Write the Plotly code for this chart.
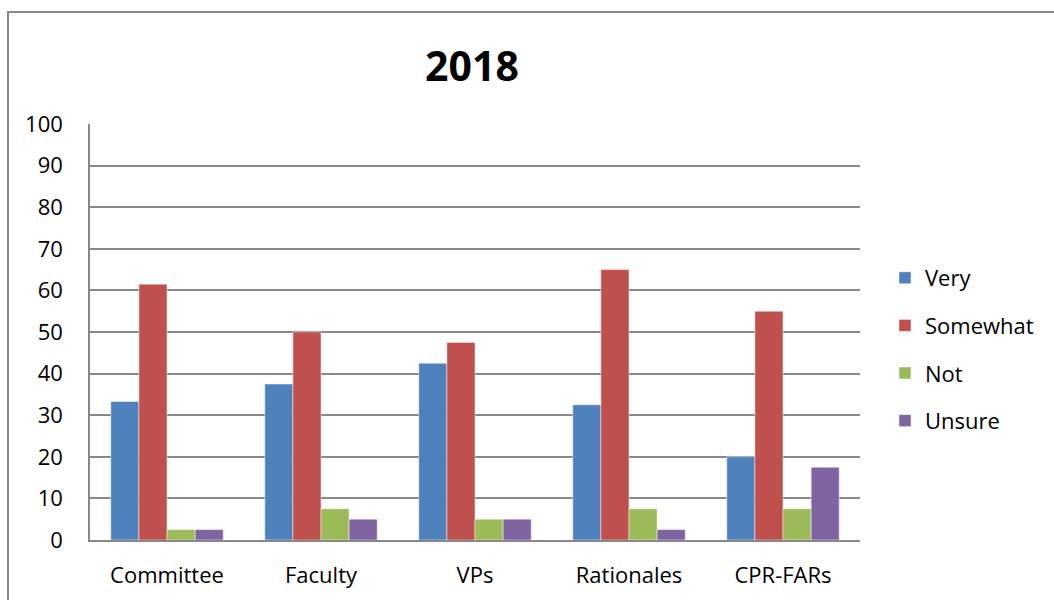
import plotly.graph_objects as go

categories = ["Committee", "Faculty", "VPs", "Rationales", "CPR-FARs"]
very = [33.3, 37.5, 42.5, 32.5, 20.0]
somewhat = [61.5, 50.0, 47.5, 65.0, 55.0]
not_ = [2.5, 7.5, 5.0, 7.5, 7.5]
unsure = [2.5, 5.0, 5.0, 2.5, 17.5]
series_names = ["Very", "Somewhat", "Not", "Unsure"]
colors = ["#4F81BD", "#C0504D", "#9BBB59", "#8064A2"]
y_ticks = list(range(0, 101, 10))

FONT = "Open Sans"

fig = go.Figure()
for name, vals, col in zip(series_names, [very, somewhat, not_, unsure], colors):
    fig.add_trace(go.Bar(
        x=categories, y=vals, name=name, legendgroup=name,
        marker=dict(color=col, line=dict(color="rgba(255,255,255,0.6)", width=0.8)),
    ))

W, H = 1054, 600
L, R, T, B = 90, 194, 124, 60
pw, ph = W - L - R, H - T - B

def px_to_paper_x(px):
    return (px - L) / pw

def px_to_paper_y(py):
    return (H - B - py) / ph

fig.update_layout(
    width=W, height=H,
    margin=dict(l=L, r=R, t=T, b=B, autoexpand=False),
    paper_bgcolor="white", plot_bgcolor="white",
    barmode="group", bargap=0.27, bargroupgap=0,
    font=dict(family=FONT, color="black", size=22),
    title=dict(text="<b>2018</b>", x=472 / W, xanchor="center", xref="container",
               y=1 - 67 / H, yanchor="middle", yref="container",
               font=dict(family=FONT, size=41, color="black")),
    legend=dict(x=px_to_paper_x(885), xanchor="left", y=px_to_paper_y(257), yanchor="top",
                traceorder="grouped", tracegroupgap=16,
                font=dict(family=FONT, size=22, color="black"),
                bgcolor="rgba(0,0,0,0)"),
    xaxis=dict(showline=True, linecolor="#888888", linewidth=1.5, showgrid=False,
               ticks="", ticklabelstandoff=15, tickfont=dict(size=22), automargin=False),
    yaxis=dict(range=[0, 100], tickvals=y_ticks, showline=True, linecolor="#888888", linewidth=1.5,
               showgrid=True, gridcolor="#888888", gridwidth=1.5, ticks="",
               ticklabelstandoff=21, tickfont=dict(size=22), zeroline=False, automargin=False),
    shapes=[dict(type="rect", xref="paper", yref="paper",
                 x0=px_to_paper_x(8), x1=px_to_paper_x(1080),
                 y0=px_to_paper_y(12), y1=px_to_paper_y(640),
                 line=dict(color="#888888", width=2), fillcolor="rgba(0,0,0,0)", layer="below")],
    showlegend=True,
)

fig.write_html("out.html", config={"displayModeBar": False},
               post_script="document.body.style.margin='0';document.body.style.overflow='hidden';")
